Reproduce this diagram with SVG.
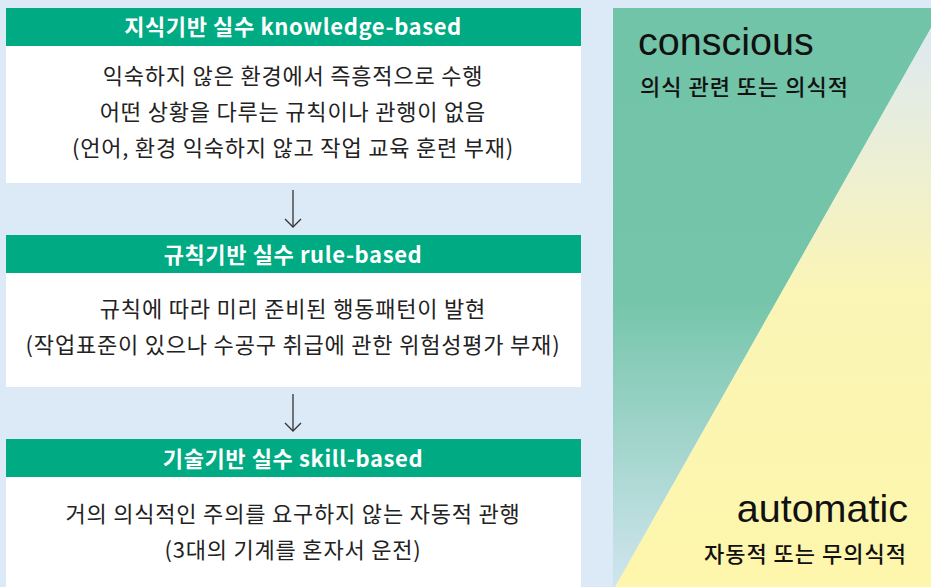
<svg xmlns="http://www.w3.org/2000/svg" width="931" height="587" viewBox="0 0 931 587">
<style>
.hdr{fill:#00aa82}
.body{fill:#ffffff}
.ht{font-family:"Noto Sans CJK KR","Noto Sans",sans-serif;font-size:22px;font-weight:700;letter-spacing:0.6px;fill:#ffffff;text-anchor:middle}
.bt{font-family:"Noto Sans CJK KR","Noto Sans",sans-serif;font-size:22px;font-weight:400;letter-spacing:0.8px;fill:#222222;text-anchor:middle}
.en{font-family:"Liberation Sans",Arial,sans-serif;font-size:39.5px;fill:#111111}
.ko{font-family:"Noto Sans CJK KR","Noto Sans",sans-serif;font-size:22px;font-weight:500;letter-spacing:1px;fill:#111111}
.conn{stroke:#333333;stroke-width:1.3;fill:none}
</style>
<defs>
<marker id="arr" markerWidth="20" markerHeight="20" refX="10" refY="10" orient="auto" markerUnits="userSpaceOnUse">
<path d="M2,2 L10,10 L2,18" fill="none" stroke="#333333" stroke-width="1.3"/>
</marker>
<linearGradient id="gGreen" gradientUnits="userSpaceOnUse" x1="0" y1="8" x2="0" y2="587">
<stop offset="0" stop-color="#72c4a8"/>
<stop offset="0.5" stop-color="#74c5a9"/>
<stop offset="1" stop-color="#d0e5ef"/>
</linearGradient>
<linearGradient id="gYellow" gradientUnits="userSpaceOnUse" x1="0" y1="28" x2="0" y2="587">
<stop offset="0" stop-color="#dde9f2"/>
<stop offset="0.47" stop-color="#fbf5b6"/>
<stop offset="1" stop-color="#fdf6ab"/>
</linearGradient>
</defs>
<rect x="0" y="0" width="931" height="587" fill="#dce9f6"/>

<g id="panel">
<polygon points="613,8 931,8 931,28 615,587 613,587" fill="url(#gGreen)"/>
<polygon points="931,28 931,587 615,587" fill="url(#gYellow)"/>
<text class="en" x="638" y="55">conscious</text>
<text class="ko" x="640" y="95">의식 관련 또는 의식적</text>
<text class="en" x="908" y="522" text-anchor="end">automatic</text>
<text class="ko" x="907" y="562" text-anchor="end">자동적 또는 무의식적</text>
</g>

<g id="node-knowledge">
<rect class="hdr" x="6" y="8" width="575" height="38"/>
<rect class="body" x="6" y="46" width="575" height="137"/>
<text class="ht" x="293" y="35">지식기반 실수 knowledge-based</text>
<text class="bt" x="293" y="84">익숙하지 않은 환경에서 즉흥적으로 수행</text>
<text class="bt" x="293" y="120">어떤 상황을 다루는 규칙이나 관행이 없음</text>
<text class="bt" x="293" y="156">(언어, 환경 익숙하지 않고 작업 교육 훈련 부재)</text>
</g>

<g id="node-rule">
<rect class="hdr" x="6" y="235" width="575" height="38"/>
<rect class="body" x="6" y="273" width="575" height="114"/>
<text class="ht" x="293" y="263">규칙기반 실수 rule-based</text>
<text class="bt" x="293" y="317">규칙에 따라 미리 준비된 행동패턴이 발현</text>
<text class="bt" x="293" y="353">(작업표준이 있으나 수공구 취급에 관한 위험성평가 부재)</text>
</g>

<g id="node-skill">
<rect class="hdr" x="6" y="439" width="575" height="38"/>
<rect class="body" x="6" y="477" width="575" height="110"/>
<text class="ht" x="293" y="467">기술기반 실수 skill-based</text>
<text class="bt" x="293" y="522">거의 의식적인 주의를 요구하지 않는 자동적 관행</text>
<text class="bt" x="293" y="558">(3대의 기계를 혼자서 운전)</text>
</g>

<g id="connectors">
<line class="conn" x1="293" y1="190" x2="293" y2="227" marker-end="url(#arr)"/>
<line class="conn" x1="293" y1="394" x2="293" y2="431" marker-end="url(#arr)"/>
</g>
</svg>
